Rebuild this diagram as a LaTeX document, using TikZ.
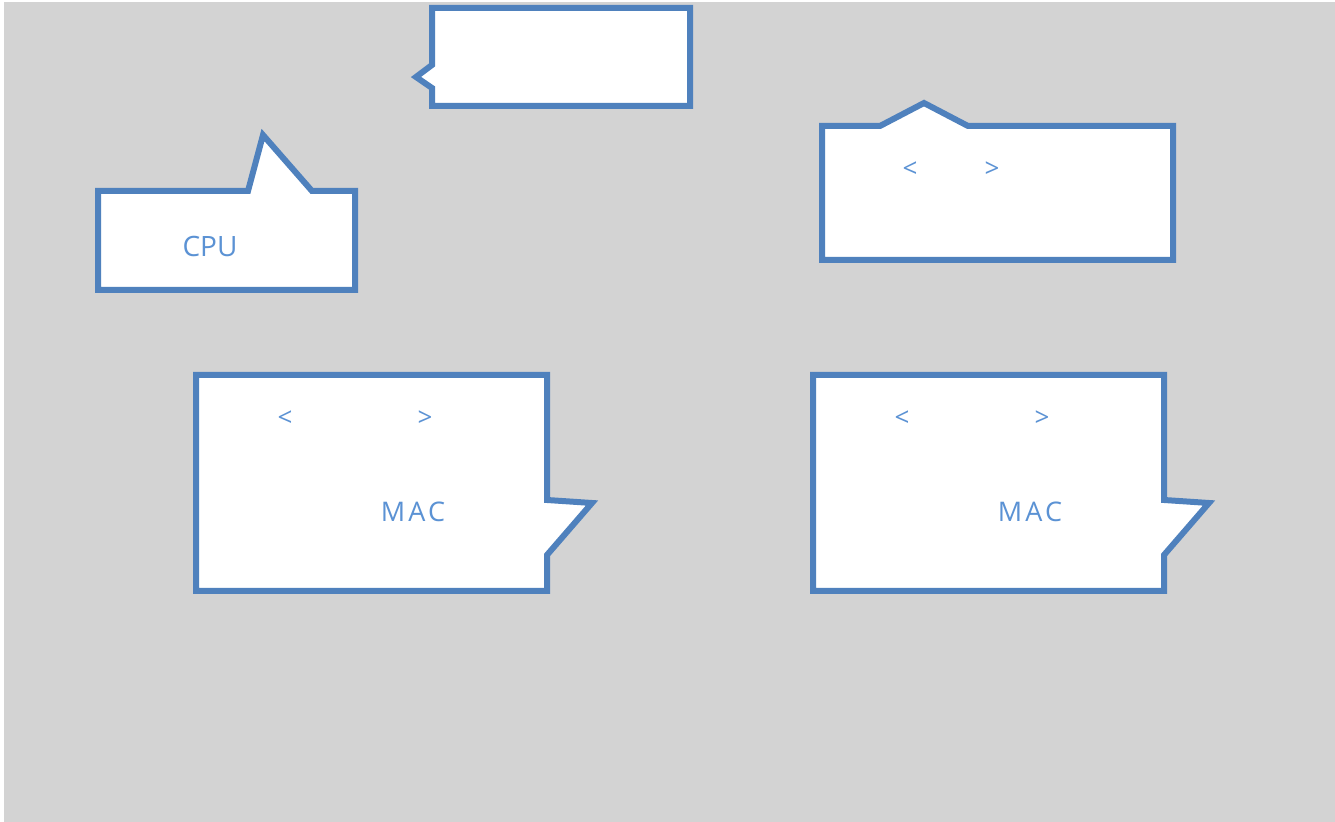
\documentclass[tikz,border=0pt]{standalone}
\usepackage{fontspec}
\setmainfont{Open Sans}
\usepackage{tikz}
\definecolor{balloonblue}{RGB}{79,129,189}
\definecolor{textblue}{RGB}{91,146,212}
\definecolor{backgray}{RGB}{211,211,211}
\tikzset{
    balloon/.style={draw=balloonblue, fill=white, line width=3pt, line join=miter},
    lbl/.style={text=textblue, font=\fontsize{13}{15}\selectfont, inner sep=0pt},
    mac/.style={lbl, font=\fontsize{13.5}{15}\selectfont\addfontfeature{LetterSpace=12}}
}
\begin{document}
\begin{tikzpicture}[x=0.5pt, y=-0.5pt]
                    \useasboundingbox (0,0) rectangle (1335,822);
                    \fill[backgray] (4,2) rectangle (1335,822);
                    \draw[balloon] (432,8) -- (690,8) -- (690,106) -- (432,106) -- (432,88) -- (416,77) -- (432,65) -- cycle;
                    \draw[balloon] (98,191) -- (248,191) -- (263,135) -- (312,191) -- (355,191) -- (355,290) -- (98,290) -- cycle;
                    \draw[balloon] (822,126) -- (880,126) -- (924,103) -- (968,126) -- (1173,126) -- (1173,260) -- (822,260) -- cycle;
                    \foreach \dx/\name in {0/left, 617/right} {
                        \draw[balloon] (196+\dx,375) -- (547+\dx,375) -- (547+\dx,500) -- (592+\dx,503) -- (547+\dx,555) -- (547+\dx,591) -- (196+\dx,591) -- cycle;
                        \node[lbl] (\name-lt) at (285+\dx,419) {<};
                        \node[lbl] (\name-gt) at (425+\dx,419) {>};
                        \node[mac] (\name-mac) at (413+\dx,512) {MAC};
                    }
                    \node[lbl, font=\fontsize{14}{16}\selectfont] (cpu) at (210,247) {CPU};
                    \node[lbl] (top-lt) at (910,170) {<};
                    \node[lbl] (top-gt) at (992,170) {>};
                \end{tikzpicture}
\end{document}
